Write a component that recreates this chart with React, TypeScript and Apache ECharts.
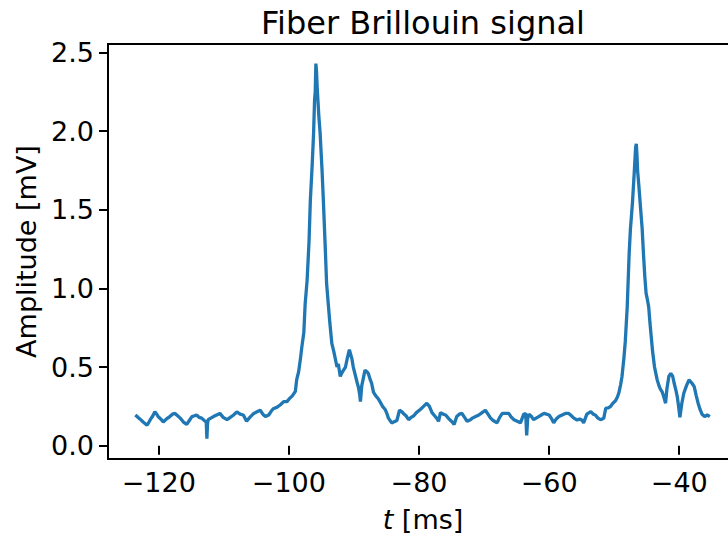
import React, { useEffect, useRef } from "react";
import * as echarts from "echarts";

const timeMs: number[] = [
  -123.6, -123.2, -122.9, -122.4, -121.8, -121.5, -121.3, -120.9, -120.6, -120.3, -120.1, -119.7, -119.3, -118.8, -118.3, -117.9, -117.5, -117.1, -116.7, -116.2, -115.7, -115.3, -114.9, -114.5, -114.2, -113.8, -113.4, -113.0, -112.7, -112.6, -112.5, -112.4, -112.0, -111.6, -111.1, -110.6, -110.1, -109.5, -109.0, -108.5, -108.0, -107.5, -107.0, -106.5, -106.0, -105.4, -104.9, -104.4, -104.0, -103.6, -103.1, -102.7, -102.4, -101.8, -101.3, -100.8, -100.3, -99.9, -99.5, -99.0, -98.8, -98.5, -98.2, -98.0, -97.7, -97.5, -97.2, -96.9, -96.7, -96.4, -96.2, -96.05, -95.95, -95.85, -95.75, -95.65, -95.4, -95.2, -94.9, -94.7, -94.4, -94.2, -93.9, -93.7, -93.4, -93.1, -92.9, -92.6, -92.4, -92.1, -91.9, -91.6, -91.3, -91.0, -90.7, -90.5, -90.3, -90.1, -89.8, -89.5, -89.3, -89.1, -89.0, -88.8, -88.6, -88.3, -88.0, -87.8, -87.5, -87.3, -87.0, -86.7, -86.3, -86.0, -85.6, -85.2, -84.9, -84.7, -84.2, -83.9, -83.4, -83.0, -82.6, -82.4, -82.0, -81.6, -81.2, -80.8, -80.4, -79.8, -79.3, -78.8, -78.4, -78.0, -77.6, -77.2, -77.0, -76.7, -76.3, -75.9, -75.4, -74.9, -74.6, -74.2, -73.8, -73.4, -73.0, -72.6, -72.1, -71.8, -71.3, -70.8, -70.3, -69.8, -69.4, -69.0, -68.6, -68.0, -67.6, -67.2, -66.7, -66.2, -65.8, -65.4, -64.9, -64.4, -63.9, -63.6, -63.45, -63.3, -63.1, -62.7, -62.4, -62.0, -61.6, -61.2, -60.8, -60.4, -60.0, -59.6, -59.3, -58.9, -58.5, -58.0, -57.5, -57.0, -56.7, -56.2, -55.7, -55.3, -54.9, -54.7, -54.2, -53.6, -53.2, -52.9, -52.5, -52.1, -51.6, -51.3, -50.9, -50.6, -50.2, -49.8, -49.5, -49.3, -49.0, -48.8, -48.5, -48.3, -48.0, -47.7, -47.5, -47.2, -46.9, -46.7, -46.6, -46.5, -46.4, -46.2, -46.0, -45.7, -45.5, -45.3, -45.1, -44.9, -44.7, -44.5, -44.3, -44.1, -43.8, -43.6, -43.4, -43.1, -42.9, -42.6, -42.3, -42.1, -41.9, -41.6, -41.3, -41.0, -40.8, -40.5, -40.3, -40.1, -39.9, -39.6, -39.3, -38.9, -38.5, -38.1, -37.7, -37.4, -37.1, -36.8, -36.5, -36.1, -35.7, -35.3,
];

const amplitudeMv: number[] = [
  0.195, 0.18, 0.17, 0.15, 0.13, 0.15, 0.165, 0.19, 0.215, 0.2, 0.185, 0.17, 0.15, 0.17, 0.185, 0.2, 0.205, 0.19, 0.175, 0.15, 0.135, 0.16, 0.185, 0.19, 0.195, 0.18, 0.175, 0.16, 0.15, 0.045, 0.14, 0.165, 0.175, 0.185, 0.195, 0.205, 0.18, 0.165, 0.18, 0.195, 0.215, 0.2, 0.195, 0.155, 0.18, 0.205, 0.215, 0.225, 0.2, 0.185, 0.195, 0.22, 0.235, 0.245, 0.26, 0.28, 0.28, 0.3, 0.315, 0.345, 0.42, 0.47, 0.56, 0.63, 0.72, 0.9, 1.05, 1.3, 1.56, 1.8, 1.99, 2.2, 2.25, 2.43, 2.38, 2.28, 2.1, 1.99, 1.75, 1.56, 1.25, 1.03, 0.88, 0.78, 0.65, 0.6, 0.56, 0.5, 0.52, 0.44, 0.46, 0.48, 0.5, 0.56, 0.61, 0.58, 0.55, 0.5, 0.45, 0.4, 0.37, 0.32, 0.28, 0.38, 0.42, 0.48, 0.47, 0.46, 0.42, 0.4, 0.34, 0.32, 0.3, 0.28, 0.25, 0.23, 0.2, 0.175, 0.145, 0.15, 0.16, 0.225, 0.215, 0.205, 0.19, 0.165, 0.18, 0.19, 0.21, 0.23, 0.25, 0.27, 0.25, 0.21, 0.19, 0.17, 0.155, 0.21, 0.2, 0.195, 0.17, 0.15, 0.135, 0.185, 0.2, 0.205, 0.18, 0.155, 0.165, 0.175, 0.185, 0.195, 0.21, 0.225, 0.2, 0.175, 0.16, 0.145, 0.18, 0.205, 0.205, 0.205, 0.18, 0.165, 0.155, 0.145, 0.2, 0.205, 0.065, 0.17, 0.2, 0.185, 0.165, 0.175, 0.185, 0.195, 0.205, 0.2, 0.195, 0.17, 0.145, 0.17, 0.185, 0.195, 0.205, 0.205, 0.195, 0.175, 0.163, 0.17, 0.16, 0.145, 0.2, 0.216, 0.2, 0.195, 0.175, 0.165, 0.174, 0.238, 0.24, 0.248, 0.27, 0.285, 0.31, 0.333, 0.39, 0.44, 0.56, 0.66, 0.88, 1.22, 1.38, 1.54, 1.75, 1.9, 1.92, 1.85, 1.75, 1.65, 1.54, 1.38, 1.22, 1.08, 0.97, 0.93, 0.884, 0.78, 0.69, 0.6, 0.5, 0.46, 0.42, 0.38, 0.36, 0.34, 0.3, 0.27, 0.36, 0.44, 0.46, 0.44, 0.4, 0.35, 0.31, 0.25, 0.18, 0.27, 0.333, 0.38, 0.418, 0.4, 0.375, 0.32, 0.27, 0.23, 0.2, 0.185, 0.195, 0.185,
];

const xTicks: number[] = [-120, -100, -80, -60, -40];
const yTicks: number[] = [0, 0.5, 1.0, 1.5, 2.0, 2.5];

const FONT = "DejaVu Sans";
const GRID = { left: 108, top: 44, width: 630, height: 415 };

export default function App() {
  const ref = useRef<HTMLDivElement>(null);
  useEffect(() => {
    if (!ref.current) return;
    const chart = echarts.init(ref.current, undefined, { renderer: "svg" });
    const data = timeMs.map((t, i) => [t, amplitudeMv[i]]);
    chart.setOption({
      animation: false,
      backgroundColor: "#fff",
      title: {
        text: "Fiber Brillouin signal",
        left: 418,
        top: 2,
        textAlign: "center",
        textStyle: { fontFamily: FONT, fontSize: 32, fontWeight: "normal", color: "#000" },
      },
      grid: { ...GRID, containLabel: false, outerBoundsMode: "none" },
      graphic: [
        {
          type: "rect",
          z: 10,
          silent: true,
          shape: { x: GRID.left, y: GRID.top, width: GRID.width, height: GRID.height },
          style: { fill: "none", stroke: "#000", lineWidth: 2 },
        },
      ],
      xAxis: {
        type: "value",
        min: -127.8,
        max: -30.97,
        axisLine: { show: false },
        splitLine: { show: false },
        axisTick: { show: true, customValues: xTicks, length: 9, lineStyle: { color: "#000", width: 2 } },
        axisLabel: {
          customValues: xTicks,
          fontFamily: FONT,
          fontSize: 27,
          color: "#000",
          margin: 10,
          formatter: (v: number) => String(v).replace("-", "\u2212"),
        },
        name: "{i|t} [ms]",
        nameLocation: "middle",
        nameGap: 47,
        nameTextStyle: {
          fontFamily: FONT,
          fontSize: 27,
          color: "#000",
          rich: { i: { fontFamily: FONT, fontSize: 27, fontStyle: "italic", color: "#000" } },
        },
      },
      yAxis: {
        type: "value",
        min: -0.085,
        max: 2.555,
        axisLine: { show: false },
        splitLine: { show: false },
        axisTick: { show: true, customValues: yTicks, length: 9, lineStyle: { color: "#000", width: 2 } },
        axisLabel: {
          customValues: yTicks,
          fontFamily: FONT,
          fontSize: 27,
          color: "#000",
          margin: 14,
          formatter: (v: number) => v.toFixed(1),
        },
        name: "Amplitude [mV]",
        nameLocation: "middle",
        nameGap: 62,
        nameRotate: 90,
        nameTextStyle: { fontFamily: FONT, fontSize: 27, color: "#000" },
      },
      series: [
        {
          type: "line",
          data,
          showSymbol: false,
          lineStyle: { color: "#1f77b4", width: 3.3 },
          itemStyle: { color: "#1f77b4" },
          clip: true,
        },
      ],
    });
    return () => chart.dispose();
  }, []);
  return (
    <div
      ref={ref}
      style={{ position: "fixed", left: 0, top: 0, width: 728, height: 538, background: "#fff" }}
    />
  );
}
